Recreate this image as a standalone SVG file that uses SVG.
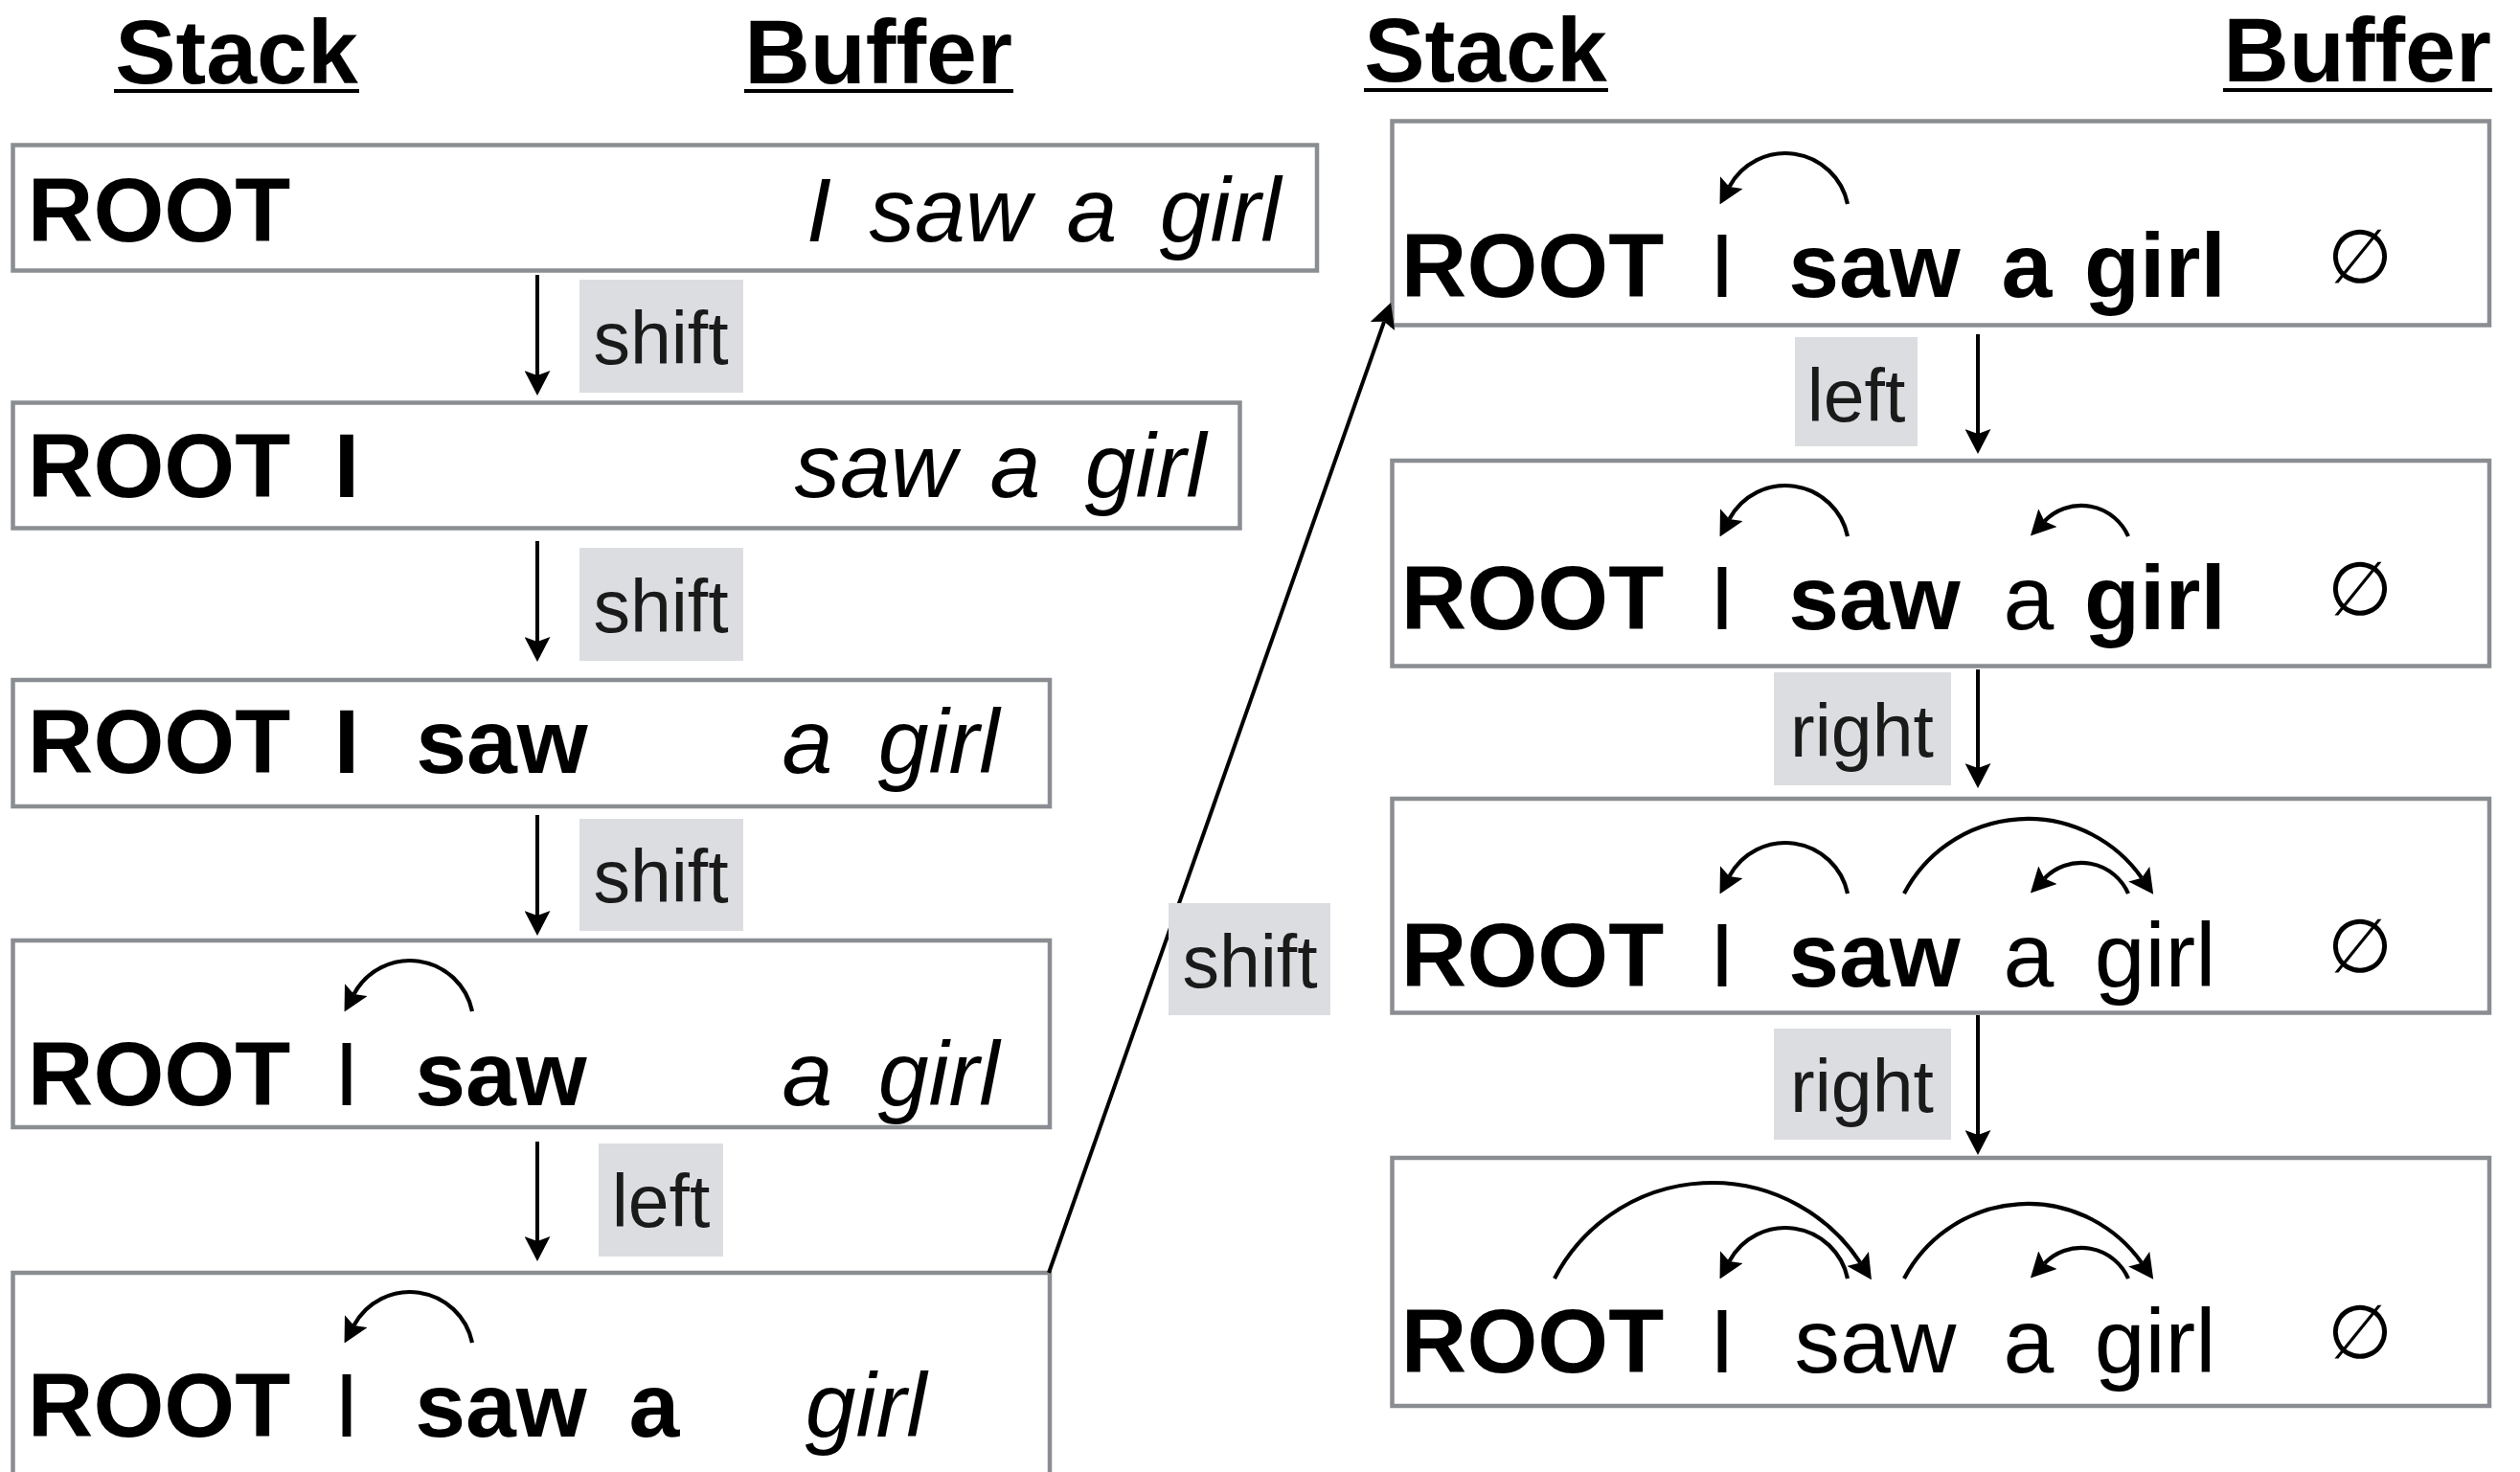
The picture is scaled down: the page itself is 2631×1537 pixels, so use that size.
<svg xmlns="http://www.w3.org/2000/svg" xmlns:xlink="http://www.w3.org/1999/xlink" width="2631" height="1537" viewBox="0 0 2631 1537">
  <style>
    .box { fill: #ffffff; stroke: #8a8d91; stroke-width: 4.5; }
    .w { font-family: "Liberation Sans", Arial, Helvetica, sans-serif; font-size: 95px; fill: #000; text-anchor: middle; }
    .b { font-weight: bold; }
    .i { font-style: italic; }
    .hd { font-family: "Liberation Sans", Arial, Helvetica, sans-serif; font-size: 95px; font-weight: bold; fill: #000; text-anchor: middle; }
    .ul { fill: #000; }
    .empty { font-family: "DejaVu Sans", sans-serif; font-size: 78px; fill: #000; text-anchor: middle; }
    .lbl { fill: #dcdde0; }
    .lt { font-family: "Liberation Sans", Arial, Helvetica, sans-serif; font-size: 77px; fill: #1a1a1a; text-anchor: middle; }
    .edge { fill: none; stroke: #000; stroke-width: 4; marker-end: url(#ah); }
    .arc { fill: none; stroke: #000; stroke-width: 4.2; marker-end: url(#ah); }
  </style>
  <defs>
    <marker id="ah" markerUnits="userSpaceOnUse" markerWidth="26" markerHeight="27" viewBox="0 -13.5 26 27" refX="5" refY="0" orient="auto">
      <path d="M0,-13.5 L26,0 L0,13.5 L5,0 Z" fill="#000"/>
    </marker>
    <!-- dependency arcs, drawn from the head word's foot point -->
    <path id="arcA" d="M0,0 A66.4,66.4 0 0 0 -123.5,-18"/>
    <path id="arcB" d="M0,0 A53.5,53.5 0 0 0 -87.5,-15.7"/>
    <path id="arcC" d="M0,0 A145.7,145.7 0 0 1 248.1,-16.3"/>
    <path id="arcD" d="M0,0 A185.3,185.3 0 0 1 319.4,-16.4"/>
  </defs>

  <!-- column headers -->
  <g id="headers">
    <text class="hd" x="247" y="87">Stack</text>
    <rect class="ul" x="119" y="93" width="256" height="4"/>
    <text class="hd" x="917" y="87">Buffer</text>
    <rect class="ul" x="777" y="93" width="281" height="4"/>
    <text class="hd" x="1551" y="85">Stack</text>
    <rect class="ul" x="1424" y="92" width="255" height="4"/>
    <text class="hd" x="2461" y="85">Buffer</text>
    <rect class="ul" x="2321" y="92" width="281" height="4"/>
  </g>

  <!-- left column: configurations 1-5 -->
  <g id="state1">
    <rect class="box" x="13.5" y="151.5" width="1361.5" height="131"/>
    <text class="w b" x="166" y="252">ROOT</text>
    <text class="w i" x="855" y="252">I</text>
    <text class="w i" x="992" y="252">saw</text>
    <text class="w i" x="1140" y="252">a</text>
    <text class="w i" x="1274" y="252">girl</text>
  </g>

  <g id="state2">
    <rect class="box" x="13.5" y="420.5" width="1281" height="131"/>
    <text class="w b" x="166" y="519">ROOT</text>
    <text class="w b" x="362" y="519">I</text>
    <text class="w i" x="914" y="519">saw</text>
    <text class="w i" x="1060" y="519">a</text>
    <text class="w i" x="1196" y="519">girl</text>
  </g>

  <g id="state3">
    <rect class="box" x="13.5" y="710" width="1082.5" height="132"/>
    <text class="w b" x="166" y="807">ROOT</text>
    <text class="w b" x="362" y="807">I</text>
    <text class="w b" x="524" y="807">saw</text>
    <text class="w i" x="843" y="807">a</text>
    <text class="w i" x="980" y="807">girl</text>
  </g>

  <g id="state4">
    <rect class="box" x="13.5" y="982" width="1082.5" height="195"/>
    <use xlink:href="#arcA" class="arc" x="493" y="1056"/>
    <text class="w b" x="166" y="1154">ROOT</text>
    <text class="w" x="362" y="1154">I</text>
    <text class="w b" x="523" y="1154">saw</text>
    <text class="w i" x="843" y="1154">a</text>
    <text class="w i" x="980" y="1154">girl</text>
  </g>

  <g id="state5">
    <rect class="box" x="13.5" y="1329" width="1082.5" height="260"/>
    <use xlink:href="#arcA" class="arc" x="493" y="1402"/>
    <text class="w b" x="166" y="1500">ROOT</text>
    <text class="w" x="362" y="1500">I</text>
    <text class="w b" x="523" y="1500">saw</text>
    <text class="w b" x="683" y="1500">a</text>
    <text class="w i" x="904" y="1500">girl</text>
  </g>

  <!-- right column: configurations 6-9 -->
  <g id="state6">
    <rect class="box" x="1453.5" y="126.5" width="1145.5" height="213"/>
    <use xlink:href="#arcA" class="arc" x="1929" y="213"/>
    <text class="w b" x="1600" y="310">ROOT</text>
    <text class="w" x="1798" y="310">I</text>
    <text class="w b" x="1957" y="310">saw</text>
    <text class="w b" x="2116" y="310">a</text>
    <text class="w b" x="2250" y="310">girl</text>
    <text class="empty" x="2464" y="295">∅</text>
  </g>

  <g id="state7">
    <rect class="box" x="1453.5" y="481" width="1145.5" height="214.5"/>
    <use xlink:href="#arcA" class="arc" x="1929" y="560"/>
    <use xlink:href="#arcB" class="arc" x="2222" y="560"/>
    <text class="w b" x="1600" y="657">ROOT</text>
    <text class="w" x="1798" y="657">I</text>
    <text class="w b" x="1957" y="657">saw</text>
    <text class="w" x="2118" y="657">a</text>
    <text class="w b" x="2250" y="657">girl</text>
    <text class="empty" x="2464" y="642">∅</text>
  </g>

  <g id="state8">
    <rect class="box" x="1453.5" y="834" width="1145.5" height="223.5"/>
    <use xlink:href="#arcA" class="arc" x="1929" y="933"/>
    <use xlink:href="#arcC" class="arc" x="1988" y="933"/>
    <use xlink:href="#arcB" class="arc" x="2222" y="933"/>
    <text class="w b" x="1600" y="1030">ROOT</text>
    <text class="w" x="1798" y="1030">I</text>
    <text class="w b" x="1957" y="1030">saw</text>
    <text class="w" x="2118" y="1030">a</text>
    <text class="w" x="2250" y="1030">girl</text>
    <text class="empty" x="2464" y="1015">∅</text>
  </g>

  <g id="state9">
    <rect class="box" x="1453.5" y="1209" width="1145.5" height="259"/>
    <use xlink:href="#arcD" class="arc" x="1623" y="1335"/>
    <use xlink:href="#arcA" class="arc" x="1929" y="1335"/>
    <use xlink:href="#arcC" class="arc" x="1988" y="1335"/>
    <use xlink:href="#arcB" class="arc" x="2222" y="1335"/>
    <text class="w b" x="1600" y="1433">ROOT</text>
    <text class="w" x="1798" y="1433">I</text>
    <text class="w" x="1958" y="1433">saw</text>
    <text class="w" x="2118" y="1433">a</text>
    <text class="w" x="2250" y="1433">girl</text>
    <text class="empty" x="2464" y="1418">∅</text>
  </g>

  <!-- transitions between configurations -->
  <g id="transitions">
    <path class="edge" d="M561,287 L561,392"/>
    <rect class="lbl" x="605" y="292" width="171" height="118"/>
    <text class="lt" x="690" y="380">shift</text>

    <path class="edge" d="M561,565 L561,670"/>
    <rect class="lbl" x="605" y="572" width="171" height="118"/>
    <text class="lt" x="690" y="660">shift</text>

    <path class="edge" d="M561,851 L561,956"/>
    <rect class="lbl" x="605" y="855" width="171" height="117"/>
    <text class="lt" x="690" y="942">shift</text>

    <path class="edge" d="M561,1192 L561,1296"/>
    <rect class="lbl" x="625" y="1194" width="130" height="118"/>
    <text class="lt" x="690" y="1281">left</text>

    <path class="edge" d="M1095,1329 L1445.1,335.8"/>
    <rect class="lbl" x="1220" y="943" width="169" height="117"/>
    <text class="lt" x="1305" y="1031">shift</text>

    <path class="edge" d="M2065,349 L2065,453"/>
    <rect class="lbl" x="1874" y="352" width="128" height="114"/>
    <text class="lt" x="1938" y="440">left</text>

    <path class="edge" d="M2065,699 L2065,802"/>
    <rect class="lbl" x="1852" y="702" width="185" height="118"/>
    <text class="lt" x="1944" y="790">right</text>

    <path class="edge" d="M2065,1060 L2065,1185"/>
    <rect class="lbl" x="1852" y="1074" width="185" height="116"/>
    <text class="lt" x="1944" y="1161">right</text>
  </g>
</svg>
